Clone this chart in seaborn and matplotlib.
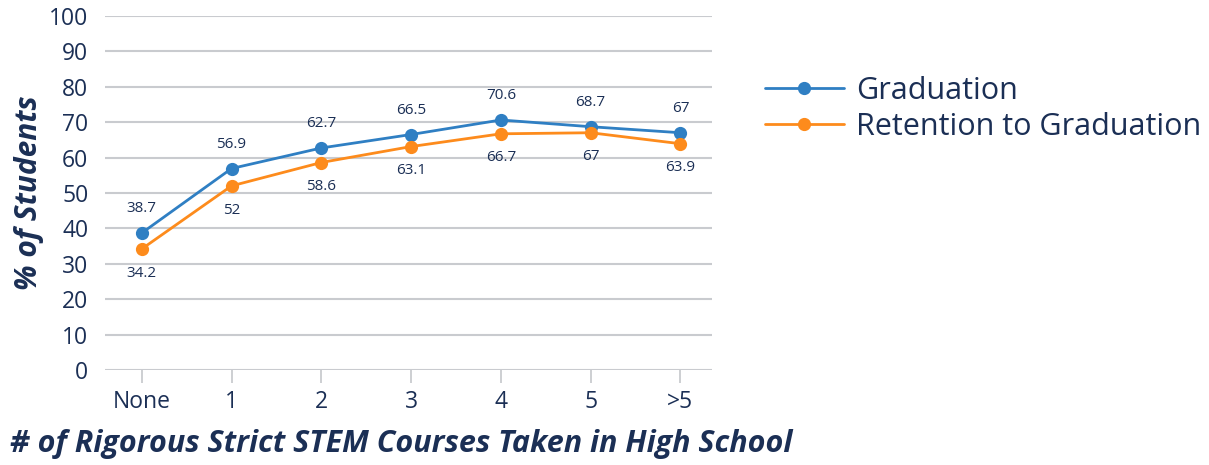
import matplotlib
matplotlib.use("Agg")
import matplotlib.pyplot as plt
import seaborn as sns
import pandas as pd

categories = ["None", "1", "2", "3", "4", "5", ">5"]
graduation = [38.7, 56.9, 62.7, 66.5, 70.6, 68.7, 67]
retention = [34.2, 52, 58.6, 63.1, 66.7, 67, 63.9]
series_names = ["Graduation", "Retention to Graduation"]
y_ticks = [0, 10, 20, 30, 40, 50, 60, 70, 80, 90, 100]

NAVY = "#1b2f55"
BLUE = "#2f7fc3"
ORANGE = "#fd8b1c"
GRID = "#c9cbcf"

sns.set_theme(style="white")
plt.rcParams["font.family"] = ["Open Sans", "DejaVu Sans"]

df = pd.DataFrame({
    "courses": categories * 2,
    "pct": graduation + retention,
    "series": [series_names[0]] * len(categories) + [series_names[1]] * len(categories),
})

fig = plt.figure(figsize=(12.09, 4.65), dpi=100)
ax = fig.add_axes([0.0868, 0.204, 0.502, 0.762])

sns.pointplot(
    data=df, x="courses", y="pct", hue="series", order=categories,
    hue_order=series_names, palette=[BLUE, ORANGE], markers="o",
    linewidth=2.0, markersize=8, dodge=False, errorbar=None, ax=ax,
)

ax.set_ylim(0, 100)
ax.set_yticks(y_ticks)
ax.set_xlim(-0.41, 6.35)
ax.yaxis.grid(True, color=GRID, linewidth=1.5)
ax.set_axisbelow(True)
for s in ax.spines.values():
    s.set_visible(False)

ax.tick_params(axis="y", length=0, labelsize=16.5, labelcolor=NAVY, pad=12)
ax.tick_params(axis="x", length=9, width=1.3, color=GRID, labelsize=16.5,
               labelcolor=NAVY, pad=5, bottom=True)

# value labels: graduation above, retention below
for i, (g, r) in enumerate(zip(graduation, retention)):
    ax.annotate(f"{g:g}", (i, g), xytext=(0, 12), textcoords="offset points",
                ha="center", va="bottom", fontsize=11, color=NAVY)
    ax.annotate(f"{r:g}", (i, r), xytext=(0, -12), textcoords="offset points",
                ha="center", va="top", fontsize=11, color=NAVY)

ax.set_ylabel("% of Students", fontsize=21.5, fontweight="bold", style="italic",
              color=NAVY)
ax.yaxis.set_label_coords(-0.1, 0.5)
ax.set_xlabel("# of Rigorous Strict STEM Courses Taken in High School",
              fontsize=22, fontweight="bold", style="italic", color=NAVY)
ax.xaxis.label.set_ha("left")
ax.xaxis.set_label_coords(-0.157, -0.165)

ax.get_legend().remove()
handles, labels = ax.get_legend_handles_labels()
fig.legend(handles, labels, loc="upper left", bbox_to_anchor=(0.6096, 0.896),
           frameon=False, fontsize=22, labelcolor=NAVY, handlelength=2.6,
           handletextpad=0.4, labelspacing=0.2)

fig.savefig("out.png", dpi=100)
